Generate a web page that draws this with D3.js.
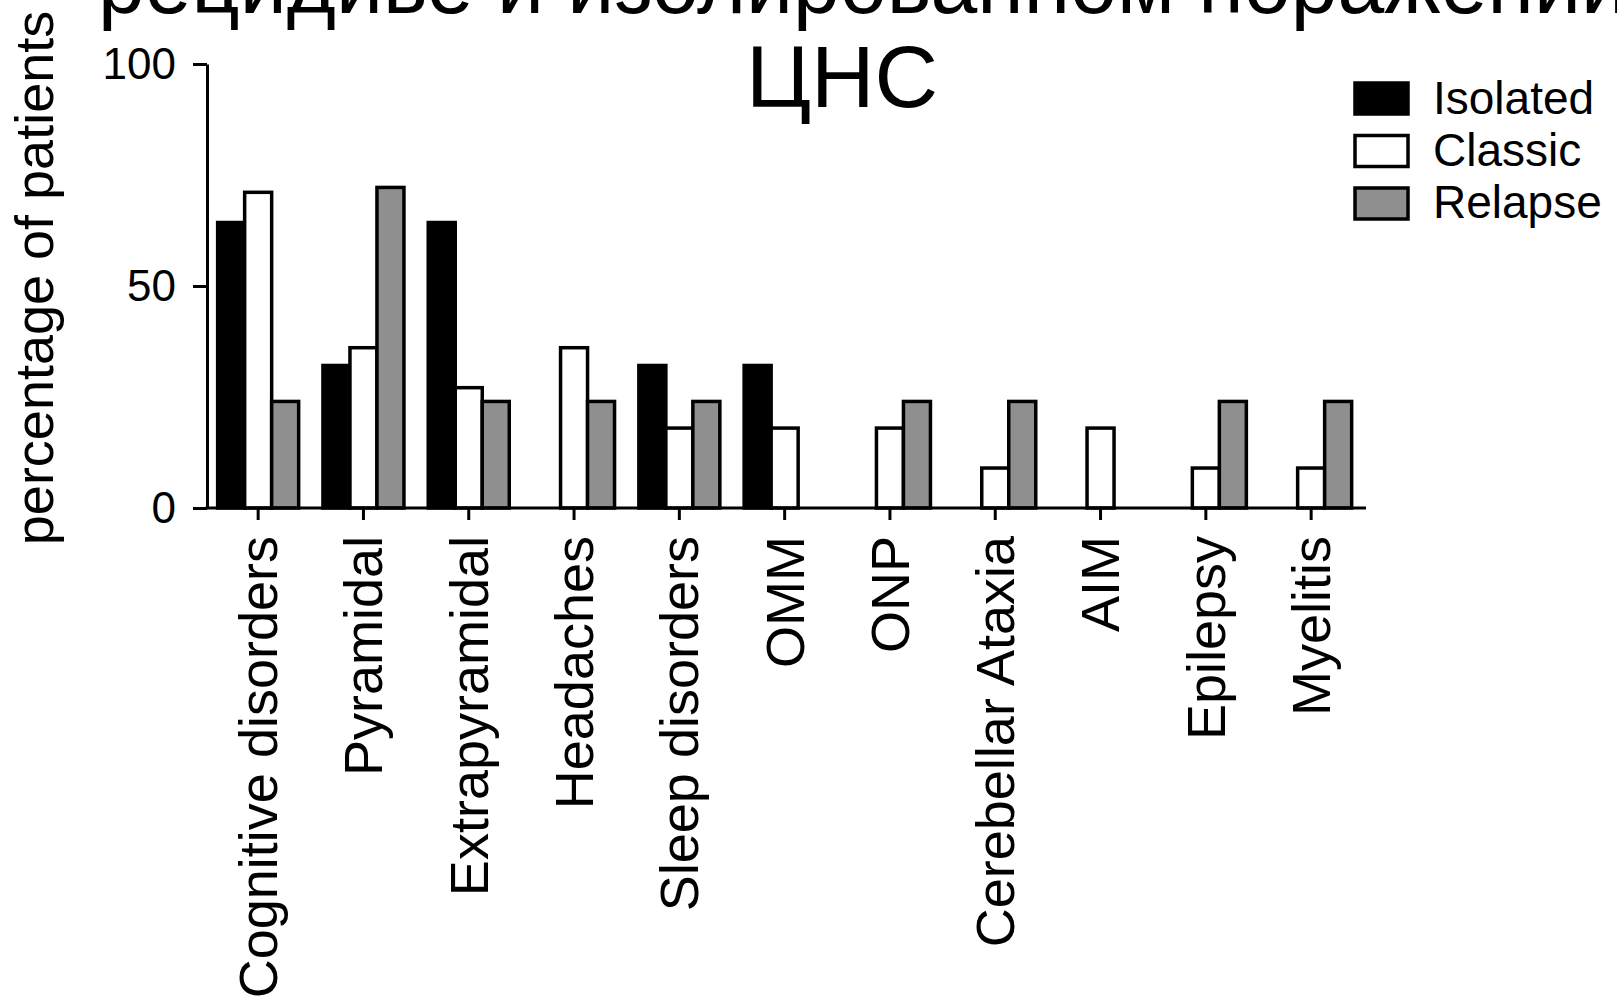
<!DOCTYPE html>
<html>
<head>
<meta charset="utf-8">
<script src="https://cdn.jsdelivr.net/npm/d3@7"></script>
<style>
  html, body { margin: 0; padding: 0; background: #fff; }
  svg { display: block; font-family: "Liberation Sans", Arial, sans-serif; }
</style>
</head>
<body>
<svg id="chart" width="1617" height="1007"></svg>
<script>
// ---- data ----
const categories = ["Cognitive disorders", "Pyramidal", "Extrapyramidal", "Headaches",
  "Sleep disorders", "OMM", "ONP", "Cerebellar Ataxia", "AIM", "Epilepsy", "Myelitis"];
const seriesNames = ["Isolated", "Classic", "Relapse"];
const isolated = [64.3, 32.1, 64.3, 0, 32.1, 32.1, 0, 0, 0, 0, 0];
const classic  = [71.1, 36.1, 27.1, 36.1, 18, 18, 18, 9, 18, 9, 9];
const relapse  = [24, 72.2, 24, 24, 24, 0, 24, 24, 0, 24, 24];
const yTicks = [0, 50, 100];
const titleLines = ["рецидиве и изолированном поражении", "ЦНС"];
const yLabel = "percentage of patients";

const seriesValues = [isolated, classic, relapse];
const fills = ["#000000", "#ffffff", "#8f8f8f"];

const svg = d3.select("#chart");

// ---- scales ----
const y = d3.scaleLinear().domain([0, 100]).range([508, 64]);
const x = d3.scaleBand().domain(categories).range([205.5, 1363.8]).padding(0);
const groupW = 81;
const x1 = d3.scaleBand().domain(seriesNames).range([0, groupW]).padding(0);

// ---- bars ----
const rows = [];
categories.forEach((c, i) => {
  seriesNames.forEach((s, j) => rows.push({ cat: c, series: s, j: j, v: seriesValues[j][i] }));
});

svg.append("g").selectAll("rect")
  .data(rows.filter(d => d.v > 0))
  .join("rect")
  .attr("x", d => x(d.cat) + x.bandwidth() / 2 - groupW / 2 + x1(d.series))
  .attr("width", x1.bandwidth())
  .attr("y", d => y(d.v))
  .attr("height", d => y(0) - y(d.v))
  .attr("fill", d => fills[d.j])
  .attr("stroke", "#000")
  .attr("stroke-width", 3.5);

// ---- axes ----
const yAxis = d3.axisLeft(y).tickValues(yTicks).tickSize(14).tickSizeOuter(0).tickPadding(17);
const gy = svg.append("g").attr("transform", "translate(207,0)").call(yAxis);
gy.select(".domain").attr("stroke-width", 3);
gy.selectAll(".tick line").attr("stroke-width", 3);
gy.selectAll(".tick text").attr("font-size", 44).attr("fill", "#000")
  .attr("font-family", "Liberation Sans, Arial, sans-serif");

const xAxis = d3.axisBottom(x).tickSize(12).tickSizeOuter(0).tickPadding(0);
const gx = svg.append("g").attr("transform", "translate(0,508)").call(xAxis);
gx.select(".domain").attr("stroke-width", 3).attr("d", "M205.5,0H1366");
gx.selectAll(".tick line").attr("stroke-width", 3);
gx.selectAll(".tick text")
  .attr("font-size", 54).attr("fill", "#000")
  .attr("font-family", "Liberation Sans, Arial, sans-serif")
  .attr("text-anchor", "end")
  .attr("transform", "rotate(-90)")
  .attr("x", -28).attr("y", 0).attr("dy", "0.35em");

// ---- y label ----
svg.append("text")
  .attr("transform", "translate(53,278) rotate(-90)")
  .attr("text-anchor", "middle")
  .attr("font-size", 54)
  .text(yLabel);

// ---- title (first line partly cut by the top edge, as in the reference) ----
svg.append("text")
  .attr("x", 863).attr("y", 13)
  .attr("text-anchor", "middle")
  .attr("font-size", 88)
  .attr("textLength", 1530).attr("lengthAdjust", "spacingAndGlyphs")
  .text(titleLines[0]);
svg.append("text")
  .attr("x", 842).attr("y", 107)
  .attr("text-anchor", "middle")
  .attr("font-size", 88)
  .text(titleLines[1]);

// ---- legend ----
const lg = svg.append("g");
seriesNames.forEach((s, i) => {
  lg.append("rect")
    .attr("x", 1355).attr("y", 83 + 52.5 * i)
    .attr("width", 53).attr("height", 31)
    .attr("fill", fills[i]).attr("stroke", "#000").attr("stroke-width", 3.5);
  lg.append("text")
    .attr("x", 1433).attr("y", 114 + 52 * i)
    .attr("font-size", 46)
    .text(s);
});
</script>
</body>
</html>
